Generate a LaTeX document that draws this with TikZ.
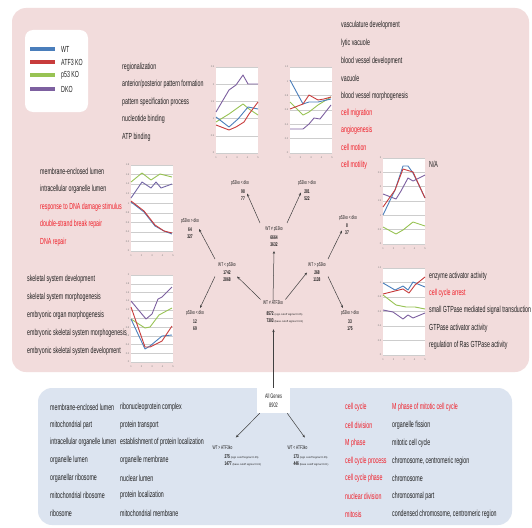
\documentclass[tikz,border=0pt]{standalone}
\usepackage{fontspec}
\setmainfont{Liberation Sans}
\newfontfamily\narrow{Liberation Sans}[FakeStretch=0.6]
\usetikzlibrary{arrows.meta,calc}
\pgfkeys{/pgf/number format/assume math mode=true}
\definecolor{pinkbg}{RGB}{242,220,220}
\definecolor{bluebg}{RGB}{220,228,240}
\definecolor{cWT}{RGB}{74,126,187}
\definecolor{cATF}{RGB}{200,60,60}
\definecolor{cPft}{RGB}{152,195,84}
\definecolor{cDKO}{RGB}{125,96,160}
\definecolor{redtxt}{RGB}{240,30,40}
\definecolor{gridc}{RGB}{205,205,205}
\definecolor{txt}{RGB}{30,30,30}
\newcommand{\smtxt}{\normalfont\fontsize{2.6}{3}\selectfont}
\newcommand{\chartbox}[6]{%
 \begin{scope}[shift={(#1,#2)}]
  \fill[white] (0,0) rectangle (#3,#4);
  \foreach \i in {0,...,#5}{
    \pgfmathsetmacro\yy{#4*\i/#5}
    \draw[gridc, line width=0.4pt] (0,\yy) -- (#3,\yy);
    \pgfmathsetmacro\vv{(#5-\i)*#6}
    \node[tick, anchor=east] at (-1.5,\yy) {\pgfmathprintnumber{\vv}};
  }
  \foreach \j in {0,...,4}{
    \pgfmathtruncatemacro\kk{\j+1}
    \node[tick] at ({#3*\j/4}, #4+5) {\kk};
  }
 \end{scope}}
\begin{document}
\begin{tikzpicture}[x=1pt,y=-1pt,
  lbl/.style={anchor=west, inner sep=0pt, text=txt, font=\narrow\fontsize{8.8}{9}\selectfont},
  rlbl/.style={lbl, text=redtxt},
  tick/.style={inner sep=0pt, text=gray, font=\fontsize{2.5}{3}\selectfont},
  cl/.style={line width=0.9pt, line join=round},
  lg/.style={line width=3.5pt},
  tr/.style={inner sep=0.3pt, align=center, text=txt, font=\narrow\fontsize{5.4}{7}\selectfont},
  trn/.style={tr, font=\narrow\bfseries\fontsize{5.4}{7}\selectfont},
  arr/.style={-{Stealth[length=3pt,width=2.4pt]}, draw=black!75, line width=0.5pt}]
\useasboundingbox (0,0) rectangle (532,527);
\fill[white] (0,0) rectangle (532,527);
\fill[pinkbg, rounded corners=14pt] (12,8) rectangle (529,372);
\fill[bluebg, rounded corners=14pt] (38,388) rectangle (512,525);

% legend
\node[fill=white, rounded corners=8pt, minimum width=63pt, minimum height=82pt, inner sep=0pt] (legend) at (56.5,71) {};
\draw[lg, cWT] (30,49) -- (55,49);
\draw[lg, cATF] (30,62) -- (55,62);
\draw[lg, cPft] (30,75) -- (55,75);
\draw[lg, cDKO] (30,89) -- (55,89);
\node[lbl] (lgA) at (61,49) {WT};
\node[lbl] (lgB) at (61,62) {ATF3 KO};
\node[lbl] (lgC) at (61,75) {p53 KO};
\node[lbl] (lgD) at (61,89) {DKO};

% chart 1
\chartbox{216}{67}{42}{86}{5}{0.5}
\begin{scope}[shift={(216,67)}]
\draw[cl,cPft] (0,55)--(13,47)--(27,37)--(33,42)--(42,48);
\draw[cl,cWT] (0,50)--(13,60)--(22,52)--(32,40)--(42,42);
\draw[cl,cATF] (0,58)--(13,63)--(20,60)--(28,55)--(33,47)--(42,35);
\draw[cl,cDKO] (0,45)--(13,23)--(20,18)--(27,8)--(32,17)--(42,17);
\end{scope}
\node[lbl] (a1) at (122,67) {regionalization};
\node[lbl] (a2) at (122,84) {anterior/posterior pattern formation};
\node[lbl] (a3) at (122,102) {pattern specification process};
\node[lbl] (a4) at (122,119) {nucleotide binding};
\node[lbl] (a5) at (122,137) {ATP binding};

% chart 2
\chartbox{290}{67}{42}{86}{6}{0.2}
\begin{scope}[shift={(290,67)}]
\draw[cl,cPft] (0,35)--(13,48)--(19,45)--(28,38)--(41,30);
\draw[cl,cWT] (0,13)--(13,37)--(19,35)--(28,35)--(41,32);
\draw[cl,cATF] (0,42)--(13,37)--(19,28)--(28,33)--(34,32)--(41,30);
\draw[cl,cDKO] (0,62)--(13,62)--(19,57)--(24,51)--(30,52)--(41,38);
\end{scope}
\node[lbl] (b1) at (341,25) {vasculature development};
\node[lbl] (b2) at (341,43) {lytic vacuole};
\node[lbl] (b3) at (341,61) {blood vessel development};
\node[lbl] (b4) at (341,78) {vacuole};
\node[lbl] (b5) at (341,96) {blood vessel morphogenesis};
\node[rlbl] (b6) at (341,113) {cell migration};
\node[rlbl] (b7) at (341,130) {angiogenesis};
\node[rlbl] (b8) at (341,147) {cell motion};
\node[rlbl] (b9) at (341,165) {cell motility};

% chart 3
\chartbox{131}{165}{42}{86}{9}{0.2}
\begin{scope}[shift={(131,165)}]
\draw[cl,cPft] (0,17)--(11,8)--(20,15)--(29,9)--(41,12);
\draw[cl,cDKO!80!cWT] (0,33)--(11,17)--(20,23)--(25,17)--(30,23)--(41,19);
\draw[cl,cWT] (0,37)--(13,47)--(24,61)--(33,66)--(41,69);
\draw[cl,cATF] (0,36)--(13,46)--(24,60)--(33,66)--(41,68);
\end{scope}
\node[lbl] (c1) at (40,171) {membrane-enclosed lumen};
\node[lbl] (c2) at (40,189) {intracellular organelle lumen};
\node[rlbl] (c3) at (40,207) {response to DNA damage stimulus};
\node[rlbl] (c4) at (40,224) {double-strand break repair};
\node[rlbl] (c5) at (40,242) {DNA repair};

% chart 4
\chartbox{131}{275}{42}{87}{10}{0.2}
\begin{scope}[shift={(131,275)}]
\draw[cl,cDKO] (0,26)--(15,44)--(21,39)--(27,24)--(31,22)--(41,12);
\draw[cl,cPft] (0,44)--(14,53)--(19,52)--(28,40)--(41,33);
\draw[cl,cWT] (0,44)--(14,74)--(19,71)--(31,61)--(41,60);
\draw[cl,cATF] (0,32)--(14,72)--(19,72)--(31,66)--(41,51);
\end{scope}
\node[lbl] (d1) at (27,279) {skeletal system development};
\node[lbl] (d2) at (27,297) {skeletal system morphogenesis};
\node[lbl] (d3) at (27,315) {embryonic organ morphogenesis};
\node[lbl] (d4) at (27,333) {embryonic skeletal system morphogenesis};
\node[lbl] (d5) at (27,351) {embryonic skeletal system development};

% chart 5
\chartbox{383}{158}{42}{86}{6}{0.5}
\begin{scope}[shift={(383,158)}]
\draw[cl,cPft] (0,69)--(13,76)--(20,72)--(30,64)--(42,68);
\draw[cl,cDKO] (0,36)--(13,41)--(18,33)--(25,20)--(30,23)--(42,17);
\draw[cl,cWT] (0,57)--(12,32)--(20,8)--(25,8)--(30,15)--(42,40);
\draw[cl,cATF] (0,49)--(12,32)--(20,11)--(30,14)--(42,40);
\end{scope}
\node[lbl] (e1) at (429,164) {N/A};

% chart 6
\chartbox{383}{268}{42}{87}{6}{0.2}
\begin{scope}[shift={(383,268)}]
\draw[cl,cPft] (0,27)--(13,37)--(23,39)--(32,39)--(42,41);
\draw[cl,cDKO] (0,42)--(10,44)--(20,51)--(25,47)--(30,50)--(42,45);
\draw[cl,cWT] (0,15)--(12,22)--(20,18)--(25,22)--(30,14)--(42,19);
\draw[cl,cATF] (0,26)--(12,23)--(20,21)--(26,25)--(32,17)--(42,9);
\end{scope}
\node[lbl] (f1) at (429,276) {enzyme activator activity};
\node[rlbl] (f2) at (429,293) {cell cycle arrest};
\node[lbl] (f3) at (429,310) {small GTPase mediated signal transduction};
\node[lbl] (f4) at (429,328) {GTPase activator activity};
\node[lbl] (f5) at (429,345) {regulation of Ras GTPase activity};

% tree
\node[tr] (TLT) at (240,183) {p53ko < dko};
\node[trn] (TLN) at (243,195.5) {98\\77};
\node[tr] (TRT) at (307,183) {p53ko > dko};
\node[trn] (TRN) at (307,195.5) {281\\522};
\node[tr] (CT) at (274,229) {WT ≠ p53ko};
\node[trn] (CN) at (274,241) {6664\\3632};
\node[tr] (LT) at (190,221) {p53ko > dko};
\node[trn] (LN) at (190,233) {64\\327};
\node[tr] (RT) at (348,218) {p53ko < dko};
\node[trn] (RN) at (347,229.5) {8\\37};
\node[tr] (WTltT) at (227,265) {WT < p53ko};
\node[trn] (WTltN) at (227,276.5) {1742\\2868};
\node[tr] (WTgtT) at (317,265) {WT > p53ko};
\node[trn] (WTgtN) at (317,276.5) {268\\1138};
\node[tr] (BLT) at (195,313) {p53ko < dko};
\node[trn] (BLN) at (195,325) {12\\69};
\node[tr] (BRT) at (350,313) {p53ko > dko};
\node[trn] (BRN) at (350,325) {33\\175};
\node[tr] (rootT) at (273,303) {WT ≠ ATF3ko};
\node[trn, anchor=west, align=left] (rootN) at (266,317) {8572 {\smtxt (sign cutoff sigma=0.05)}\\7303 {\smtxt (base cutoff sigma=0.01)}};

\node[fill=white, inner sep=0pt, minimum width=33pt, minimum height=25pt, align=center, text=txt, font=\narrow\fontsize{6.5}{8.5}\selectfont] (AG) at (273.5,400.5) {All Genes\\8902};
\node[tr, anchor=west] (WTaT) at (212,448) {WT > ATF3ko};
\node[trn, anchor=west, align=left] (WTaN) at (224,460) {275 {\smtxt (sign cutoff sigma=0.05)}\\1477 {\smtxt (base cutoff sigma=0.01)}};
\node[tr, anchor=west] (WTbT) at (287,448) {WT < ATF3ko};
\node[trn, anchor=west, align=left] (WTbN) at (293,460) {173 {\smtxt (sign cutoff sigma=0.05)}\\446 {\smtxt (base cutoff sigma=0.01)}};

\draw[arr] (AG.north) -- ($(AG.north |- rootN.south)+(0,6)$);
\draw[arr] ($(AG.south west)+(3,0)$) -- ($(WTaT.north east)+(3,-8)$);
\draw[arr] ($(AG.south east)+(-3,0)$) -- ($(WTbT.north east)+(-3,-8)$);
\draw[arr] ($(rootT.north west)+(-2,-1)$) -- ($(WTltN.center)+(10,0)$);
\draw[arr] ($(rootT.north east)+(2,-1)$) -- ($(WTgtN.center)+(-10,-4)$);
\draw[arr] (rootT.north) -- ($(CN.south)+(0,4)$);
\draw[arr] ($(WTltT.north)+(-12,-3)$) -- ($(LN.center)+(9,-4)$);
\draw[arr] ($(WTltN.center)+(-12,0)$) -- ($(BLT.center)+(5,-5)$);
\draw[arr] ($(WTgtT.north)+(11,-3)$) -- ($(RN.center)+(-5,1)$);
\draw[arr] ($(WTgtN.center)+(11,0)$) -- ($(BRT.center)+(-7,-5)$);
\draw[arr] ($(CT.north)+(-14,-3)$) -- ($(TLN.center)+(4,-2)$);
\draw[arr] ($(CT.north)+(13,-3)$) -- ($(TRN.center)+(-6,-3)$);

% bottom lists
\foreach \t [count=\k] in {membrane-enclosed lumen, mitochondrial part, intracellular organelle lumen, organelle lumen, organellar ribosome, mitochondrial ribosome, ribosome}
  \node[lbl] (g\k) at (50,{389.5+17.7*\k}) {\t};
\foreach \t [count=\k] in {ribonucleoprotein complex, protein transport, establishment of protein localization, organelle membrane, nuclear lumen, protein localization, mitochondrial membrane}
  \node[lbl] (h\k) at (120,{389.5+17.7*\k}) {\t};
\foreach \t [count=\k] in {cell cycle, cell division, M phase, cell cycle process, cell cycle phase, nuclear division, mitosis}
  \node[rlbl] (i\k) at (345,{390+17.7*\k}) {\t};
\node[rlbl] (j1) at (392,407.7) {M phase of mitotic cell cycle};
\foreach \t [count=\k from 2] in {organelle fission, mitotic cell cycle, {chromosome, centromeric region}, chromosome, chromosomal part, {condensed chromosome, centromeric region}}
  \node[lbl] (j\k) at (392,{390+17.7*\k}) {\t};
\end{tikzpicture}
\end{document}
